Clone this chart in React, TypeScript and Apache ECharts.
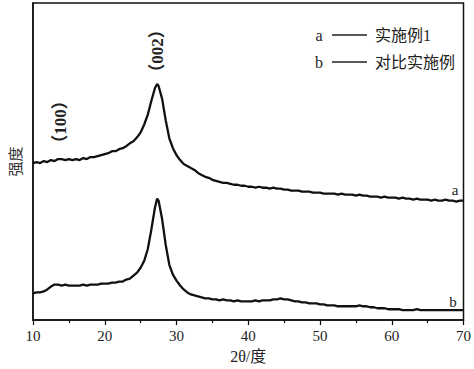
import React, { useEffect, useRef } from "react";
import * as echarts from "echarts";

const twoTheta = [
  10, 10.5, 11, 11.5, 12, 12.5, 13, 13.5, 14, 14.5, 15, 15.5, 16, 16.5, 17, 17.5, 18, 18.5, 19, 19.5,
  20, 20.5, 21, 21.5, 22, 22.5, 23, 23.5, 24, 24.5, 25, 25.5, 26, 26.5, 27, 27.3, 27.5, 28, 28.5, 29, 29.5,
  30, 30.5, 31, 31.5, 32, 32.5, 33, 33.5, 34, 34.5, 35, 35.5, 36, 36.5, 37, 37.5, 38, 38.5, 39, 39.5,
  40, 40.5, 41, 41.5, 42, 42.5, 43, 43.5, 44, 44.5, 45, 45.5, 46, 46.5, 47, 47.5, 48, 48.5, 49, 49.5,
  50, 50.5, 51, 51.5, 52, 52.5, 53, 53.5, 54, 54.5, 55, 55.5, 56, 56.5, 57, 57.5, 58, 58.5, 59, 59.5,
  60, 60.5, 61, 61.5, 62, 62.5, 63, 63.5, 64, 64.5, 65, 65.5, 66, 66.5, 67, 67.5, 68, 68.5, 69, 69.5, 70,
];

const seriesA = [
  159, 160, 159, 161, 160, 162, 161, 163, 163, 162, 163, 162, 163, 162, 164, 163, 165, 165, 166, 167,
  168, 169, 171, 171, 173, 174, 176, 179, 181, 185, 190, 198, 208, 222, 235, 239, 237, 224, 202, 184, 174,
  167, 162, 158, 156, 154, 152, 149, 147, 145, 144, 142, 141, 140, 139, 139, 138, 137, 137, 136, 136,
  135, 135, 134, 135, 134, 134, 133, 134, 133, 133, 132, 132, 131, 131, 131, 130, 130, 130, 129, 129,
  129, 128, 128, 128, 128, 127, 128, 127, 127, 127, 126, 127, 126, 126, 125, 125, 125, 124, 125, 124,
  124, 124, 123, 124, 123, 123, 122, 123, 122, 122, 122, 121, 122, 121, 121, 122, 121, 121, 120, 121, 121,
];

const seriesB = [
  27, 28, 28, 29, 31, 34, 36, 36, 35, 36, 35, 35, 35, 35, 36, 35, 36, 36, 36, 37,
  37, 37, 38, 38, 39, 39, 41, 42, 45, 48, 53, 60, 72, 92, 114, 123, 121, 102, 76, 56, 46,
  40, 35, 31, 28, 26, 25, 24, 23, 22, 22, 21, 21, 20, 21, 20, 20, 19, 20, 19, 19,
  19, 19, 20, 19, 20, 20, 20, 21, 21, 22, 21, 21, 20, 19, 19, 18, 18, 17, 17, 17,
  16, 16, 15, 15, 15, 14, 14, 14, 14, 14, 14, 15, 14, 14, 13, 13, 12, 12, 12, 11,
  11, 11, 11, 10, 10, 10, 10, 11, 10, 10, 10, 10, 10, 10, 10, 10, 10, 10, 10, 10, 10,
];

const xTicks = { min: 10, max: 70, interval: 10 };
const xName = "2θ/度";
const yName = "强度";
const legendLetters = ["a", "b"];
const legendNames = ["实施例1", "对比实施例"];
const peakLabels = ["（100）", "（002）"];

const FONT = "Liberation Serif, Noto Sans CJK SC, serif";

export default function App() {
  const ref = useRef<HTMLDivElement>(null);
  useEffect(() => {
    if (!ref.current) return;
    const chart = echarts.init(ref.current, undefined, { renderer: "svg" });
    const mk = (vals: number[]) => twoTheta.map((x, i) => [x, vals[i]]);
    const textStyle = { fill: "#222", fontFamily: FONT };
    chart.setOption({
      animation: false,
      textStyle: { fontFamily: FONT },
      grid: {
        left: 33,
        right: 9,
        top: 3,
        bottom: 45,
        show: true,
        borderColor: "#111",
        borderWidth: 1.5,
        backgroundColor: "transparent",
      },
      xAxis: {
        type: "value",
        min: xTicks.min,
        max: xTicks.max,
        interval: xTicks.interval,
        name: xName,
        nameLocation: "middle",
        nameGap: 27,
        nameTextStyle: { color: "#222", fontSize: 16, fontFamily: FONT },
        axisLine: { show: true, lineStyle: { color: "#111", width: 1.5 } },
        axisTick: { show: true, length: 5, lineStyle: { color: "#111", width: 1.2 } },
        minorTick: { show: true, splitNumber: 2, length: 3, lineStyle: { color: "#111", width: 1.2 } },
        axisLabel: { color: "#222", fontSize: 15, margin: 8, fontFamily: FONT },
        splitLine: { show: false },
      },
      yAxis: {
        type: "value",
        min: 0,
        max: 321,
        name: yName,
        nameLocation: "middle",
        nameGap: 10,
        nameRotate: 90,
        nameTextStyle: { color: "#333", fontSize: 15, fontFamily: FONT },
        axisLine: { show: true, lineStyle: { color: "#111", width: 1.5 } },
        axisTick: { show: false },
        axisLabel: { show: false },
        splitLine: { show: false },
      },
      series: [
        {
          name: legendNames[0],
          type: "line",
          data: mk(seriesA),
          showSymbol: false,
          lineStyle: { color: "#111", width: 2.3 },
          label: { show: false },
        },
        {
          name: legendNames[1],
          type: "line",
          data: mk(seriesB),
          showSymbol: false,
          lineStyle: { color: "#111", width: 2.3 },
          label: { show: false },
        },
      ],
      graphic: [
        { type: "text", x: 319, y: 35, style: { ...textStyle, text: legendLetters[0], fontSize: 16, verticalAlign: "middle", align: "center" } },
        { type: "line", shape: { x1: 332, y1: 35, x2: 367, y2: 35 }, style: { stroke: "#222", lineWidth: 1.5 } },
        { type: "text", x: 375, y: 35, style: { ...textStyle, text: legendNames[0], fontSize: 16, verticalAlign: "middle", align: "left" } },
        { type: "text", x: 319, y: 62, style: { ...textStyle, text: legendLetters[1], fontSize: 16, verticalAlign: "middle", align: "center" } },
        { type: "line", shape: { x1: 332, y1: 62, x2: 367, y2: 62 }, style: { stroke: "#222", lineWidth: 1.5 } },
        { type: "text", x: 375, y: 62, style: { ...textStyle, text: legendNames[1], fontSize: 16, verticalAlign: "middle", align: "left" } },
        { type: "text", x: 455, y: 190, style: { ...textStyle, text: legendLetters[0], fontSize: 15, verticalAlign: "middle", align: "center" } },
        { type: "text", x: 453, y: 302, style: { ...textStyle, text: legendLetters[1], fontSize: 15, verticalAlign: "middle", align: "center" } },
        { type: "text", x: 60, y: 122, rotation: Math.PI / 2, style: { ...textStyle, text: peakLabels[0], fontSize: 17, fontWeight: "bold", verticalAlign: "middle", align: "center" } },
        { type: "text", x: 157, y: 51, rotation: Math.PI / 2, style: { ...textStyle, text: peakLabels[1], fontSize: 17, fontWeight: "bold", verticalAlign: "middle", align: "center" } },
      ],
    });
    return () => chart.dispose();
  }, []);
  return <div ref={ref} style={{ width: 474, height: 369, position: "absolute", left: 0, top: 0 }} />;
}
